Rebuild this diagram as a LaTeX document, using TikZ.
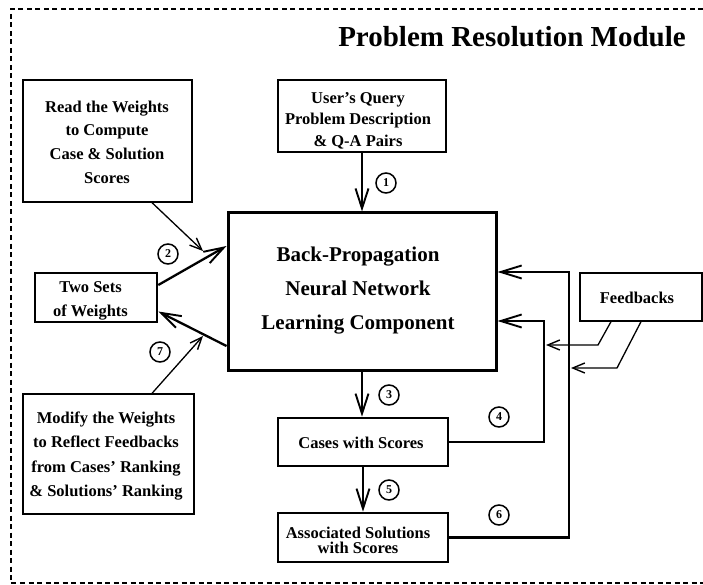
\documentclass[tikz,border=0pt]{standalone}
\usepackage{fontspec}
\setmainfont{Liberation Serif}
\usetikzlibrary{arrows.meta}
\begin{document}
\begin{tikzpicture}[x=1pt,y=-1pt,
  frame/.style={line width=1.1pt, dash pattern=on 5pt off 3.5pt},
  thinbox/.style={draw, line width=1.3pt, inner sep=0pt},
  thickbox/.style={draw, line width=2.6pt, inner sep=0pt},
  mainbox/.style={draw, line width=3pt, inner sep=0pt},
  txt/.style={font=\bfseries\fontsize{16.5}{23.7}\selectfont, align=center, inner sep=0pt},
  num/.style={circle, draw, line width=1.5pt, minimum size=20pt, inner sep=0pt,
    font=\bfseries\fontsize{12}{12}\selectfont},
  bigarrow/.style={line width=2.3pt, -{Straight Barb[length=20pt,width=13pt,line width=1.9pt]}},
  widearrow/.style={line width=2.6pt, -{Straight Barb[length=21pt,width=13pt,line width=1.9pt]}},
  smallarrow/.style={line width=1.3pt, -{Straight Barb[length=12pt,width=10pt,line width=1.4pt]}}
]
\useasboundingbox (0,0) rectangle (703,585);

% module frame, open on the right
\draw[frame] (703,9) -- (11,9) -- (11,583) -- (703,583);

% title
\node[font=\bfseries\fontsize{29}{29}\selectfont, anchor=base, inner sep=0pt] (title) at (512,47) {Problem Resolution Module};

% boxes
\node[thinbox, minimum width=169pt, minimum height=122pt] (read) at (107.5,141) {};
\node[txt] (readtext) at (107,142) {Read the Weights\\to Compute\\Case \& Solution\\Scores};

\node[thickbox, minimum width=168pt, minimum height=72pt] (query) at (362,116) {};
\node[txt, font=\bfseries\fontsize{16.5}{21.5}\selectfont] (querytext) at (358,120.5) {User's Query\\Problem Description\\\& Q-A Pairs};

\node[mainbox, minimum width=268pt, minimum height=157pt] (main) at (362,291.5) {};
\node[font=\bfseries\fontsize{21}{34}\selectfont, align=center, inner sep=0pt] (maintext) at (358,291) {Back-Propagation\\Neural Network\\Learning Component};

\node[thickbox, minimum width=122pt, minimum height=49pt] (twosets) at (96,297.5) {};
\node[txt, font=\bfseries\fontsize{16.5}{24}\selectfont] (twosetstext) at (90.5,301) {Two Sets\\of Weights};

\node[thinbox, minimum width=171pt, minimum height=120pt] (modify) at (108.5,454) {};
\node[txt, font=\bfseries\fontsize{16.5}{24.5}\selectfont] (modifytext) at (106,456) {Modify the Weights\\to Reflect Feedbacks\\from Cases' Ranking\\\& Solutions' Ranking};

\node[thickbox, minimum width=170pt, minimum height=48pt] (cases) at (363,442) {};
\node[txt, anchor=base] (casestext) at (361,448) {Cases with Scores};

\node[thickbox, minimum width=170pt, minimum height=49pt] (assoc) at (363,537.5) {};
\node[txt, font=\bfseries\fontsize{16.5}{15}\selectfont] (assoctext) at (358,540) {Associated Solutions\\with Scores};

\node[thinbox, minimum width=122pt, minimum height=48pt] (feed) at (641,297) {};
\node[txt, anchor=base] (feedtext) at (637,303) {Feedbacks};

% step numbers
\node[num] (n1) at (386,183) {1};
\node[num] (n2) at (168,254) {2};
\node[num] (n3) at (389,395) {3};
\node[num] (n4) at (499,417) {4};
\node[num] (n5) at (389,490) {5};
\node[num] (n6) at (499,515) {6};
\node[num] (n7) at (160,352) {7};

% main flow
\draw[bigarrow] (query.south) -- (main.north);
\draw[bigarrow] (main.south) -- (main.south |- cases.north);
\draw[bigarrow] (cases.south) -- (cases.south |- assoc.north);

% weights exchange
\draw[bigarrow] ([yshift=12.5pt]twosets.east) -- (main.west |- 0,246);
\draw[bigarrow] (main.west |- 0,346) -- ([yshift=-14pt]twosets.east);
\coordinate (tip2) at (203,251);
\coordinate (tip7) at (203,336);
\draw[smallarrow] ([xshift=44.5pt]read.south) -- (tip2);
\draw[smallarrow] ([xshift=43.5pt]modify.north) -- (tip7);

% ranking feedback loops
\coordinate (k4) at (544,321);
\coordinate (k6) at (569,272);
\draw[widearrow] (cases.east) -| (k4) -- (main.east |- k4);
\draw[widearrow] (assoc.east) -| (k6) -- (main.east |- k6);

% user feedbacks
\coordinate (f1) at (598,345);
\coordinate (f1end) at (546,345);
\coordinate (f2) at (617,368);
\coordinate (f2end) at (571,368);
\draw[smallarrow] ([xshift=-30pt]feed.south) -- (f1) -- (f1end);
\draw[smallarrow] (feed.south) -- (f2) -- (f2end);
\end{tikzpicture}
\end{document}
